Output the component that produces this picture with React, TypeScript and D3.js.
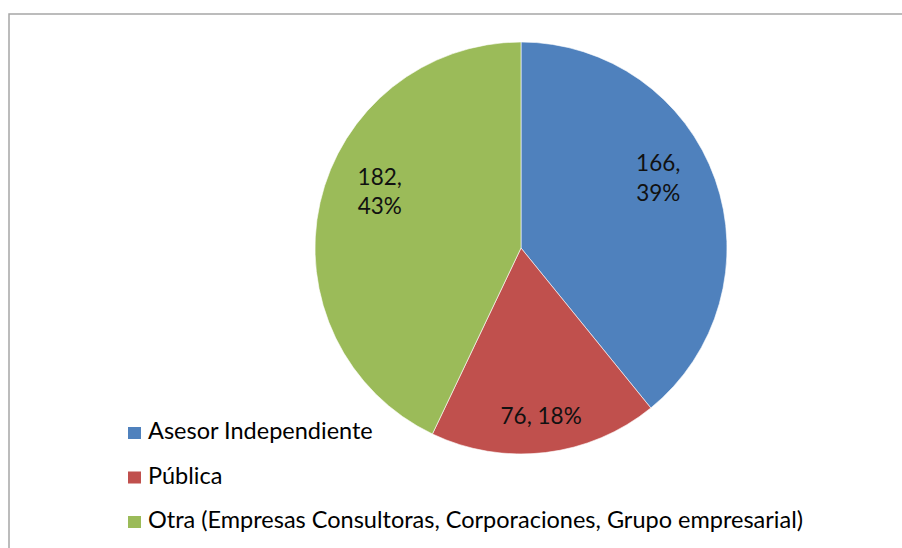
import React from "react";
import * as d3 from "d3";

const categories = [
  "Asesor Independiente",
  "Pública",
  "Otra (Empresas Consultoras, Corporaciones, Grupo empresarial)",
];
const values = [166, 76, 182];
const percentLabels = ["39%", "18%", "43%"];
const colors = ["#4F81BD", "#C0504D", "#9BBB59"];

const W = 902;
const H = 548;
const FONT = "Lato, 'Open Sans', sans-serif";

export default function App() {
  const cx = 521;
  const cy = 248;
  const R = 206;
  const pie = d3.pie<number>().sort(null).value((d) => d)(values);
  const arc = d3.arc<d3.PieArcDatum<number>>().innerRadius(0).outerRadius(R);
  const labelArcs = [152, 170, 152];

  return (
    <svg
      width={W}
      height={H}
      style={{ position: "absolute", left: 0, top: 0, background: "#fff" }}
    >
      <rect x={9} y={14} width={W + 20} height={H + 20} fill="#fff" stroke="#a6a6a6" strokeWidth={1.5} />
      <g transform={`translate(${cx},${cy})`}>
        {pie.map((p, i) => (
          <path key={i} d={arc(p) || ""} fill={colors[i]} stroke="#fff" strokeWidth={0.6} />
        ))}
        {pie.map((p, i) => {
          const la = d3.arc<d3.PieArcDatum<number>>().innerRadius(labelArcs[i]).outerRadius(labelArcs[i]);
          const [x, y] = la.centroid(p);
          const twoLine = i !== 1;
          if (!twoLine) {
            return (
              <text key={i} x={x} y={y + 7} textAnchor="middle" fontFamily={FONT} fontSize={22.5} fill="#111">
                {`${values[i]}, ${percentLabels[i]}`}
              </text>
            );
          }
          const dx = i === 0 ? -6 : 7;
          const dy0 = i === 0 ? -26 : -30;
          return (
            <text key={i} x={x + dx} y={y} textAnchor="middle" fontFamily={FONT} fontSize={22.5} fill="#111">
              <tspan x={x + dx} dy={dy0}>{`${values[i]},`}</tspan>
              <tspan x={x + dx} dy={29.5}>{percentLabels[i]}</tspan>
            </text>
          );
        })}
      </g>
      <g>
        {categories.map((c, i) => {
          const by = 439 + i * 44.5;
          return (
            <g key={i}>
              <rect x={128} y={by - 12} width={13} height={12} fill={colors[i]} />
              <text x={148} y={by} fontFamily={FONT} fontSize={23.5} fill="#000">
                {c}
              </text>
            </g>
          );
        })}
      </g>
    </svg>
  );
}
